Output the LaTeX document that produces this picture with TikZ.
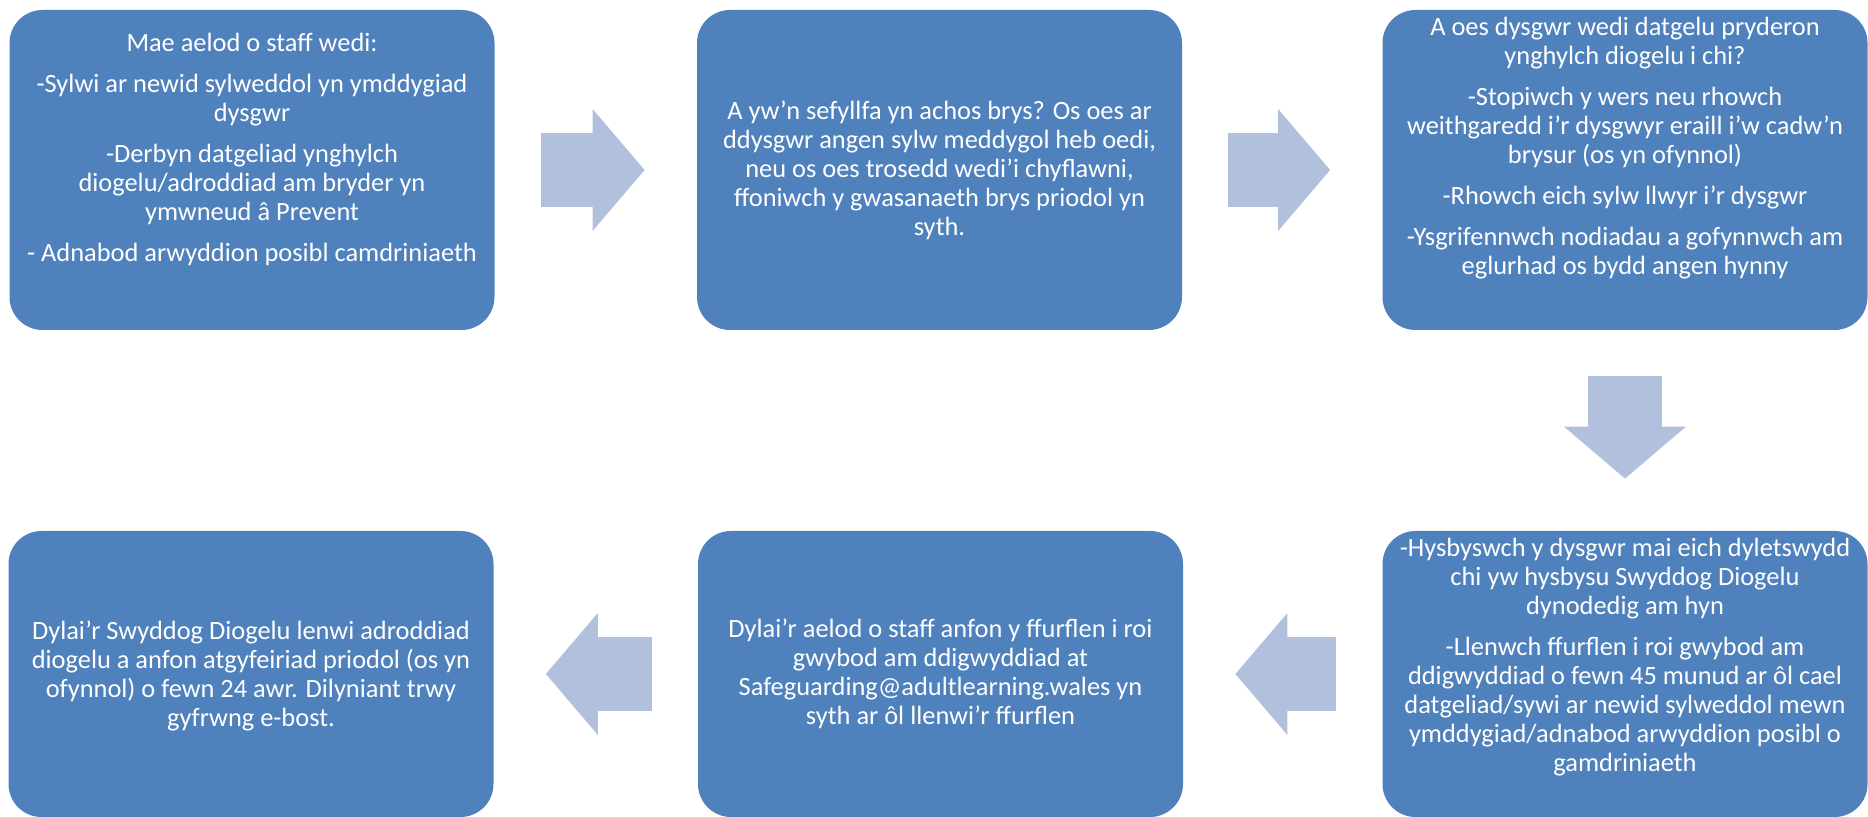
\documentclass[tikz,border=0pt]{standalone}
\usepackage{xcolor}
\usepackage{fontspec}
\setmainfont{Carlito}
\usepackage{tikz}
\usetikzlibrary{positioning, calc, arrows.meta}
\definecolor{boxblue}{RGB}{79,129,189}
\definecolor{arrowblue}{RGB}{176,192,221}
\newcommand{\pgap}{\\[6pt]}

\begin{document}
\begin{tikzpicture}[x=0.5pt, y=-0.5pt]
	\tikzstyle{stepbox}=[rectangle, rounded corners=16.5pt, fill=boxblue, inner sep=0pt, minimum width=242.5pt, minimum height=160pt]
	\tikzstyle{lowbox}=[stepbox, minimum height=143pt]
	\tikzstyle{boxtext}=[inner sep=0pt, align=center, text=white, font=\fontsize{13.2}{14.5}\selectfont]
	\tikzstyle{flowarrow}=[line width=37pt, draw=arrowblue, -{Triangle[length=26pt, width=61pt, line width=0pt]}, shorten <=23pt, shorten >=26pt]
	\useasboundingbox (0,0) rectangle (1868,817);

	\node (b1) at (252,170) [stepbox]{};
	\node (b2) at (939.5,170) [stepbox]{};
	\node (b3) at (1625,170) [stepbox]{};
	\node (b4) at (1625,674) [lowbox]{};
	\node (b5) at (940.5,674) [lowbox]{};
	\node (b6) at (251,674) [lowbox]{};

	\node (t1) at ([yshift=-11.4pt]b1.north) [boxtext, anchor=north]{Mae aelod o staff wedi:\pgap
		-Sylwi ar newid sylweddol yn ymddygiad\\ dysgwr\pgap
		-Derbyn datgeliad ynghylch\\ diogelu/adroddiad am bryder yn\\ ymwneud â Prevent\pgap
		- Adnabod arwyddion posibl camdriniaeth};
	\node (t2) at (b2) [boxtext]{A yw’n sefyllfa yn achos brys? Os oes ar\\ ddysgwr angen sylw meddygol heb oedi,\\ neu os oes trosedd wedi’i chyflawni,\\ ffoniwch y gwasanaeth brys priodol yn\\ syth.};
	\node (t3) at ([yshift=-3.5pt]b3.north) [boxtext, anchor=north]{A oes dysgwr wedi datgelu pryderon\\ ynghylch diogelu i chi?\pgap
		-Stopiwch y wers neu rhowch\\ weithgaredd i’r dysgwyr eraill i’w cadw’n\\ brysur (os yn ofynnol)\pgap
		-Rhowch eich sylw llwyr i’r dysgwr\pgap
		-Ysgrifennwch nodiadau a gofynnwch am\\ eglurhad os bydd angen hynny};
	\node (t4) at ([yshift=-3.8pt]b4.north) [boxtext, anchor=north]{-Hysbyswch y dysgwr mai eich dyletswydd\\ chi yw hysbysu Swyddog Diogelu\\ dynodedig am hyn\pgap
		-Llenwch ffurflen i roi gwybod am\\ ddigwyddiad o fewn 45 munud ar ôl cael\\ datgeliad/sywi ar newid sylweddol mewn\\ ymddygiad/adnabod arwyddion posibl o\\ gamdriniaeth};
	\node (t5) at (b5) [boxtext]{Dylai’r aelod o staff anfon y ffurflen i roi\\ gwybod am ddigwyddiad at\\ Safeguarding@adultlearning.wales yn\\ syth ar ôl llenwi’r ffurflen};
	\node (t6) at ([yshift=-1pt]b6.center) [boxtext]{Dylai’r Swyddog Diogelu lenwi adroddiad\\ diogelu a anfon atgyfeiriad priodol (os yn\\ ofynnol) o fewn 24 awr. Dilyniant trwy\\ gyfrwng e-bost.};

	\draw[flowarrow] (b1) -- (b2);
	\draw[flowarrow] (b2) -- (b3);
	\draw[flowarrow] (b3) -- (b4);
	\draw[flowarrow] (b4) -- (b5);
	\draw[flowarrow] (b5) -- (b6);
\end{tikzpicture}
\end{document}
